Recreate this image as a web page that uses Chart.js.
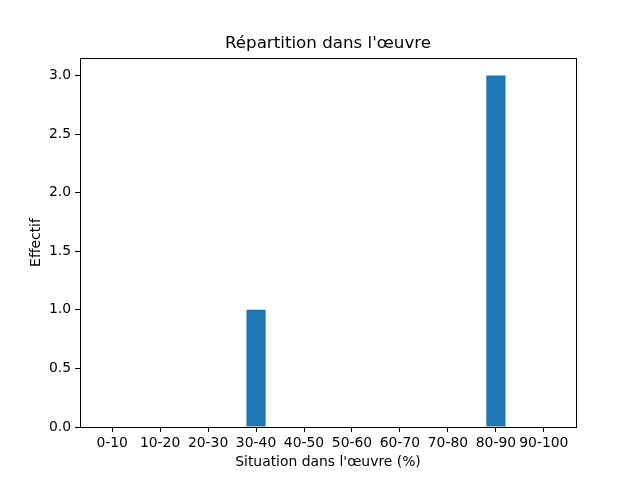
<!DOCTYPE html>
<html>
<head>
<meta charset="utf-8">
<script src="https://cdn.jsdelivr.net/npm/chart.js@4"></script>
<style>
  html, body { margin: 0; padding: 0; background: #fff; }
  #wrap { width: 640px; height: 480px; }
</style>
</head>
<body>
<div id="wrap"><canvas id="chart" width="640" height="480"></canvas></div>
<script>
// donnees
var categories = ['0-10', '10-20', '20-30', '30-40', '40-50', '50-60', '60-70', '70-80', '80-90', '90-100'];
var effectifs = [0, 0, 0, 1, 0, 0, 0, 0, 3, 0];
var yTicks = [0, 0.5, 1, 1.5, 2, 2.5, 3];

var points = [];
categories.forEach(function(c, i) {
  points.push({x: i, y: effectifs[i]});
});

// cadre autour de la zone de trace (comme matplotlib)
var cadre = {
  id: 'cadre',
  afterDatasetsDraw: function(chart) {
    var a = chart.chartArea, ctx = chart.ctx;
    ctx.save();
    ctx.strokeStyle = '#000';
    ctx.lineWidth = 1;
    ctx.strokeRect(Math.round(a.left) + 0.5, Math.round(a.top) + 0.5,
      Math.round(a.right - a.left), Math.round(a.bottom - a.top));
    ctx.restore();
  }
};

var font = 'DejaVu Sans';
var myChart = new Chart(document.getElementById('chart'), {
  type: 'bar',
  data: {
    datasets: [{
      data: points,
      backgroundColor: '#1f77b4',
      borderColor: '#1f77b4',
      borderWidth: 0,
      inflateAmount: 0,
      barPercentage: 0.4,
      categoryPercentage: 1
    }]
  },
  plugins: [cadre],
  options: {
    responsive: false,
    animation: false,
    layout: { padding: { right: 0, top: 0, bottom: 0, left: 16 } },
    plugins: {
      legend: { display: false },
      tooltip: { enabled: false },
      title: {
        display: true,
        text: "Répartition dans l'œuvre",
        color: '#000',
        font: { family: font, size: 16.7, weight: 'normal' },
        padding: { top: 34, bottom: 4 }
      }
    },
    scales: {
      x: {
        type: 'linear',
        offset: false,
        min: -0.67,
        max: 9.67,
        afterBuildTicks: function(s) {
          s.ticks = categories.map(function(c, i) { return {value: i}; });
        },
        afterFit: function(s) { s.height = 53; },
        ticks: {
          color: '#000',
          font: { family: font, size: 13.9 },
          padding: 3,
          maxRotation: 0,
          autoSkip: false,
          callback: function(v) { return categories[v]; }
        },
        grid: { display: true, offset: false, drawOnChartArea: false, tickLength: 5, color: '#000' },
        border: { display: false },
        title: {
          display: true,
          text: "Situation dans l'œuvre (%)",
          color: '#000',
          font: { family: font, size: 13.9 },
          padding: { top: 0, bottom: 9 }
        }
      },
      y: {
        min: 0,
        max: 3.15,
        afterBuildTicks: function(s) {
          s.ticks = yTicks.map(function(v) { return {value: v}; });
        },
        afterFit: function(s) { s.width = 64; },
        ticks: {
          color: '#000',
          font: { family: font, size: 13.9 },
          padding: 4,
          callback: function(v) { return v.toFixed(1); }
        },
        grid: { display: true, drawOnChartArea: false, tickLength: 5, color: '#000' },
        border: { display: false },
        title: {
          display: true,
          text: 'Effectif',
          color: '#000',
          font: { family: font, size: 13.9 },
          padding: { top: 12, bottom: 0 }
        }
      },
      // axe vide a droite pour reserver la marge
      yDroite: {
        position: 'right',
        display: true,
        afterFit: function(s) { s.width = 64; },
        ticks: { display: false },
        grid: { display: false },
        border: { display: false }
      }
    }
  }
});
</script>
</body>
</html>
